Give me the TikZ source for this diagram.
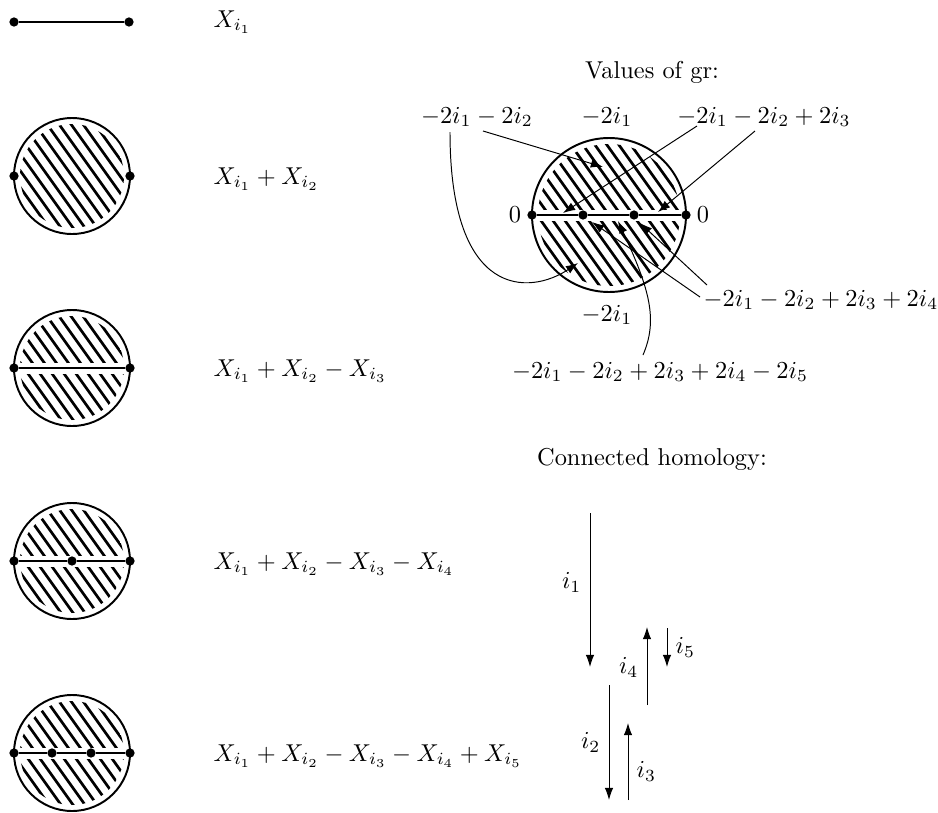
\documentclass[tikz,border=0pt]{standalone}
\usepackage{amsmath, amssymb}
\usepackage{xcolor}
\usepackage{tikz}
\usetikzlibrary{arrows.meta,calc}
\tikzset{
  ribbon/.style={
    thick,
    draw=black
  },
  vertex/.style={
    circle,
    fill=black,
    inner sep=0pt,
    minimum size=3.8pt
  },
  hatchline/.style={
    line width=1.1pt
  },
  grarrow/.style={
    -{Latex[length=5pt,width=3.5pt]},
    thin
  },
  homarrow/.style={
    -{Latex[length=5pt,width=3.5pt]},
    thin
  }
}

\begin{document}
\begin{tikzpicture}[x=0.41pt,y=-0.41pt]
  \useasboundingbox (0,0) rectangle (938,813);

  % arc
  \node[vertex] (s1) at (14,22) {};
  \node[vertex] (s2) at (129,22) {};
  \draw[ribbon] (s1) -- (s2);
  \node[anchor=west] (x1) at (205,22) {$X_{i_1}$};

  % disc
  \begin{scope}
    \clip (72,176) circle (52);
    \foreach \k in {-84,-72,...,84}
      \draw[hatchline] (17+\k,99) -- ++(110,154);
  \end{scope}
  \draw[ribbon] (72,176) circle (58);
  \node[vertex] (b1) at (14,176) {};
  \node[vertex] (b2) at (130,176) {};
  \node[anchor=west] (x2) at (205,179) {$X_{i_1}+X_{i_2}$};

  % cut discs
  \foreach \cy in {368,561,753} {
    \foreach \s in {-1,1} {
      \begin{scope}
        \clip (72,\cy) circle (52);
        \clip (10,\cy+6*\s) rectangle (134,\cy+60*\s);
        \foreach \k in {-84,-72,...,84}
          \draw[hatchline] (17+\k,\cy-77) -- ++(110,154);
      \end{scope}
    }
    \draw[ribbon] (72,\cy) circle (58);
  }

  \node[vertex] (c1) at (14,368) {};
  \node[vertex] (c2) at (130,368) {};
  \draw[ribbon] (c1) -- (c2);
  \node[anchor=west] (x3) at (205,371) {$X_{i_1}+X_{i_2}-X_{i_3}$};

  \node[vertex] (d1) at (14,561) {};
  \node[vertex] (d2) at (72,561) {};
  \node[vertex] (d3) at (130,561) {};
  \draw[ribbon] (d1) -- (d2) -- (d3);
  \node[anchor=west] (x4) at (205,564) {$X_{i_1}+X_{i_2}-X_{i_3}-X_{i_4}$};

  \node[vertex] (e1) at (14,753) {};
  \node[vertex] (e2) at (52,753) {};
  \node[vertex] (e3) at (91,753) {};
  \node[vertex] (e4) at (130,753) {};
  \draw[ribbon] (e1) -- (e2) -- (e3) -- (e4);
  \node[anchor=west] (x5) at (205,756) {$X_{i_1}+X_{i_2}-X_{i_3}-X_{i_4}+X_{i_5}$};

  % values of gr
  \node (gr) at (652,72) {Values of gr:};
  \foreach \s in {-1,1} {
    \begin{scope}
      \clip (609,215) circle (71);
      \clip (530,215+6*\s) rectangle (690,215+80*\s);
      \foreach \k in {-108,-96,...,108}
        \draw[hatchline] (554+\k,138) -- ++(110,154);
    \end{scope}
  }
  \draw[ribbon] (609,215) circle (77);
  \node[vertex] (g1) at (532,215) {};
  \node[vertex] (g2) at (583,215) {};
  \node[vertex] (g3) at (634,215) {};
  \node[vertex] (g4) at (686,215) {};
  \draw[ribbon] (g1) -- (g2) -- (g3) -- (g4);

  \node (z1) at (515,215) {$0$};
  \node (z2) at (703,215) {$0$};
  \node (vA) at (477,117) {$-2i_1-2i_2$};
  \node (vB) at (607,117) {$-2i_1$};
  \node (vC) at (764,117) {$-2i_1-2i_2+2i_3$};
  \node (vD) at (607,315) {$-2i_1$};
  \node (vE) at (821,300) {$-2i_1-2i_2+2i_3+2i_4$};
  \node (vF) at (660,372) {$-2i_1-2i_2+2i_3+2i_4-2i_5$};

  \coordinate (tA) at (603,167);
  \coordinate (tB) at (578,263);
  \coordinate (tC) at (563,213);
  \coordinate (tD) at (658,212);
  \coordinate (tE) at (640,223);
  \coordinate (tF) at (592,222);
  \coordinate (tG) at (618,221);

  \draw[grarrow] ($(vA)+(6,14)$) -- (tA);
  \draw[grarrow] ($(vA)+(-27,15)$) .. controls (450,300) and (530,295) .. (tB);
  \draw[grarrow] ($(vC)+(-67,9)$) -- (tC);
  \draw[grarrow] ($(vC)+(-9,14)$) -- (tD);
  \draw[grarrow] ($(vE)+(-114,-15)$) -- (tE);
  \draw[grarrow] ($(vE)+(-121,-3)$) -- (tF);
  \draw[grarrow] ($(vF)+(-17,-17)$) .. controls (658,320) and (650,290) .. (tG);

  % connected homology
  \node (ch) at (652,459) {Connected homology:};
  \coordinate (h1a) at (590,513);
  \coordinate (h1b) at (590,667);
  \coordinate (h2a) at (609,685);
  \coordinate (h2b) at (609,800);
  \coordinate (h3a) at (628,800);
  \coordinate (h3b) at (628,723);
  \coordinate (h4a) at (647,705);
  \coordinate (h4b) at (647,627);
  \coordinate (h5a) at (667,628);
  \coordinate (h5b) at (667,667);
  \draw[homarrow] (h1a) -- node[left, pos=0.45] {$i_1$} (h1b);
  \draw[homarrow] (h2a) -- node[left] {$i_2$} (h2b);
  \draw[homarrow] (h3a) -- node[right, pos=0.37] {$i_3$} (h3b);
  \draw[homarrow] (h4a) -- node[left, pos=0.48] {$i_4$} (h4b);
  \draw[homarrow] (h5a) -- node[right] {$i_5$} (h5b);
\end{tikzpicture}
\end{document}
